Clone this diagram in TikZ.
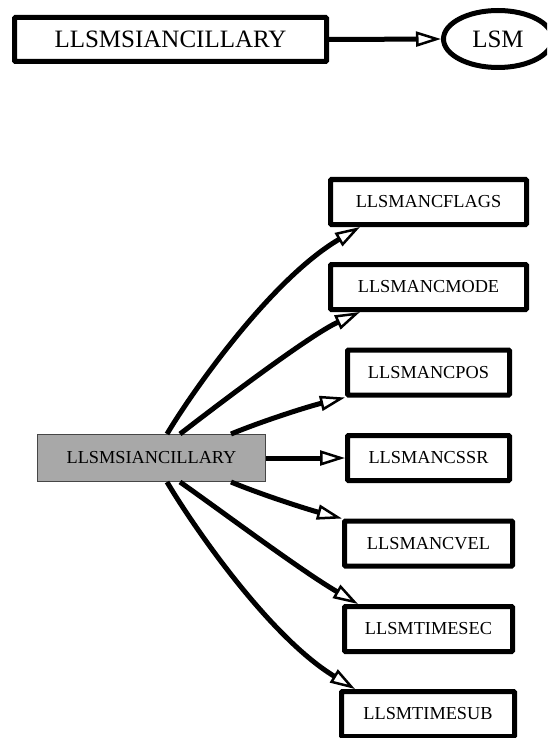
\documentclass[tikz,border=0pt]{standalone}
\usepackage{fontspec}
\setmainfont{Liberation Serif}
\usetikzlibrary{arrows.meta,calc,shapes.geometric}

\tikzset{
  big/.style={font=\fontsize{25}{30}\selectfont},
  small/.style={font=\fontsize{18.3}{22}\selectfont},
  topbox/.style={draw, line width=5pt, rounded corners=1pt, big, minimum width=312pt, minimum height=44pt, inner sep=0pt},
  topoval/.style={draw, ellipse, line width=5pt, big, minimum width=109pt, minimum height=57pt, inner sep=0pt},
  focus/.style={draw={rgb,255:red,70;green,70;blue,70}, line width=1pt, fill={rgb,255:red,168;green,168;blue,168}, small, minimum width=228pt, minimum height=47pt, inner sep=0pt},
  dep/.style={draw, line width=5pt, rounded corners=1pt, fill=white, small, minimum height=45pt, inner sep=0pt},
  link/.style={line width=5pt, -{Triangle[fill=white, length=25pt, width=15pt, line width=2.5pt]}},
}

\begin{document}
\begin{tikzpicture}[x=1pt, y=-1pt]
  \useasboundingbox (0,0) rectangle (547,738);
  \clip (0,0) rectangle (547,738);

  % module and its parent
  \node[topbox] (top) at (170.5,39.5) {LLSMSIANCILLARY};
  \node[topoval] (lsm) at (498,39) {LSM};
  \draw[link] (top.east) -- (lsm.west);

  % module and the types it uses
  \node[focus] (g) at (151.5,458) {LLSMSIANCILLARY};
  \node[dep, minimum width=196pt] (f)  at (428.5,202)   {LLSMANCFLAGS};
  \node[dep, minimum width=196pt] (m)  at (428.5,287)   {LLSMANCMODE};
  \node[dep, minimum width=162pt] (p)  at (428.5,372.5) {LLSMANCPOS};
  \node[dep, minimum width=162pt] (c)  at (428.5,458)   {LLSMANCSSR};
  \node[dep, minimum width=168pt] (v)  at (428.5,543.5) {LLSMANCVEL};
  \node[dep, minimum width=168pt] (ts) at (428.5,629)   {LLSMTIMESEC};
  \node[dep, minimum width=173pt] (tb) at (428,714)     {LLSMTIMESUB};

  \draw[link] ($(g.north west)+(130,0)$) .. controls (190,395) and (270,280) .. ($(f.south west)+(32,0)$);
  \draw[link] ($(g.north west)+(143,0)$) .. controls (220,403) and (310,335) .. ($(m.south west)+(32,0)$);
  \draw[link] ($(g.north west)+(194,0)$) .. controls (265,420) and (310,406) .. (p.south west);
  \draw[link] (g.east) -- (c.west);
  \draw[link] ($(g.south west)+(194,0)$) .. controls (265,496) and (310,510) .. (v.north west);
  \draw[link] ($(g.south west)+(143,0)$) .. controls (220,510) and (300,570) .. ($(ts.north west)+(16,0)$);
  \draw[link] ($(g.south west)+(130,0)$) .. controls (190,521) and (267,635) .. ($(tb.north west)+(16,0)$);
\end{tikzpicture}
\end{document}
